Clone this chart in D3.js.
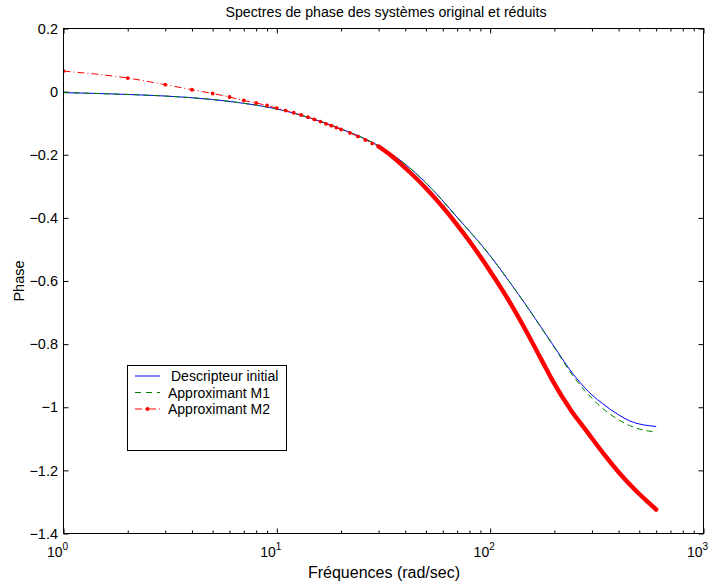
<!DOCTYPE html>
<html>
<head>
<meta charset="utf-8">
<script src="https://cdn.jsdelivr.net/npm/d3@7"></script>
<style>
  body { margin: 0; background: #fff; }
  svg { display: block; font-family: "Liberation Sans", Arial, Helvetica, sans-serif; }
</style>
</head>
<body>
<svg id="chart" width="720" height="587"></svg>
<script>
// Frequency grid (rad/sec) shared by the initial descriptor and model M1
const freqFull = [1, 2, 3, 5, 7, 10, 15, 20, 30, 40, 50, 70, 100, 123, 150, 200, 246, 280, 300, 337, 400, 450, 500, 550, 600];
// Phase of the initial descriptor system
const phaseInitial = [-0.003, -0.009, -0.014, -0.025, -0.037, -0.055, -0.088, -0.118, -0.172, -0.230, -0.289, -0.398, -0.520, -0.602, -0.684, -0.809, -0.897, -0.941, -0.961, -0.989, -1.024, -1.043, -1.053, -1.058, -1.061];
// Phase of reduced model M1
const phaseM1 = [-0.003, -0.009, -0.014, -0.025, -0.037, -0.055, -0.088, -0.118, -0.172, -0.230, -0.289, -0.398, -0.520, -0.602, -0.685, -0.811, -0.903, -0.950, -0.972, -1.004, -1.040, -1.058, -1.069, -1.075, -1.079];
// Frequency samples of reduced model M2 (one sample per rad/sec at low frequency)
const freqM2 = [1, 2, 3, 4, 5, 6, 7, 8, 9, 10, 11, 12, 13, 14, 15, 16, 17, 18, 19, 20, 22, 24, 26, 28, 30, 35, 40, 50, 60, 70, 80, 100, 120, 150, 175, 194, 240, 282, 340, 404, 480, 540, 600];
// Phase of reduced model M2
const phaseM2 = [0.065, 0.043, 0.022, 0.006, -0.006, -0.017, -0.028, -0.036, -0.044, -0.052, -0.060, -0.067, -0.074, -0.081, -0.088, -0.095, -0.102, -0.108, -0.114, -0.120, -0.131, -0.142, -0.153, -0.164, -0.174, -0.207, -0.242, -0.306, -0.366, -0.422, -0.474, -0.569, -0.653, -0.768, -0.853, -0.910, -1.011, -1.074, -1.147, -1.209, -1.263, -1.296, -1.324];

const seriesNames = ["Descripteur initial", "Approximant M1", "Approximant M2"];
const yTickValues = [0.2, 0, -0.2, -0.4, -0.6, -0.8, -1, -1.2, -1.4];
const xDecades = [0, 1, 2, 3];

const svg = d3.select("#chart");
const plot = { left: 63.5, right: 703.5, top: 28.5, bottom: 533.5 };

const x = d3.scaleLog().domain([1, 1000]).range([plot.left, plot.right]);
const y = d3.scaleLinear().domain([-1.4, 0.2]).range([plot.bottom, plot.top]);

const majorX = xDecades.map(d => Math.pow(10, d));
const minorX = [];
for (let d = 0; d < 3; d++) for (let m = 2; m <= 9; m++) minorX.push(m * Math.pow(10, d));

// Clip region for the curves
svg.append("defs").append("clipPath").attr("id", "clip")
  .append("rect").attr("x", plot.left).attr("y", plot.top)
  .attr("width", plot.right - plot.left).attr("height", plot.bottom - plot.top);

// Inward ticks on all four sides
function tickGroup(axisGen, tx, ty) {
  const g = svg.append("g").attr("transform", `translate(${tx},${ty})`).call(axisGen);
  g.select(".domain").remove();
  g.selectAll("text").remove();
  g.selectAll("line").attr("stroke", "#000").attr("stroke-width", 1);
  return g;
}
tickGroup(d3.axisBottom(x).tickValues(majorX).tickSize(-5), 0, plot.bottom);
tickGroup(d3.axisBottom(x).tickValues(minorX).tickSize(-3), 0, plot.bottom);
tickGroup(d3.axisTop(x).tickValues(majorX).tickSize(-5), 0, plot.top);
tickGroup(d3.axisTop(x).tickValues(minorX).tickSize(-3), 0, plot.top);
tickGroup(d3.axisLeft(y).tickValues(yTickValues).tickSize(-5), plot.left, 0);
tickGroup(d3.axisRight(y).tickValues(yTickValues).tickSize(-5), plot.right, 0);

// Curves
const line = d3.line().x(d => x(d[0])).y(d => y(d[1])).curve(d3.curveMonotoneX);
const curves = svg.append("g").attr("clip-path", "url(#clip)");

const dataInit = freqFull.map((f, i) => [f, phaseInitial[i]]);
const dataM1 = freqFull.map((f, i) => [f, phaseM1[i]]);
const dataM2 = freqM2.map((f, i) => [f, phaseM2[i]]);

curves.append("path").datum(dataInit).attr("d", line)
  .attr("fill", "none").attr("stroke", "#0000ff").attr("stroke-width", 1);
curves.append("path").datum(dataM1).attr("d", line)
  .attr("fill", "none").attr("stroke", "#008000").attr("stroke-width", 1)
  .attr("stroke-dasharray", "6,4");

// M2: dash-dot line with point markers; above 30 rad/sec the markers merge into a solid band
curves.append("path").datum(dataM2).attr("d", line)
  .attr("fill", "none").attr("stroke", "#ff0000").attr("stroke-width", 1)
  .attr("stroke-dasharray", "7,3,1,3");
curves.append("path").datum(dataM2.filter(d => d[0] >= 30)).attr("d", line)
  .attr("fill", "none").attr("stroke", "#ff0000").attr("stroke-width", 4.4)
  .attr("stroke-linecap", "round");
curves.selectAll("circle.m2").data(dataM2).enter().append("circle")
  .attr("class", "m2").attr("cx", d => x(d[0])).attr("cy", d => y(d[1]))
  .attr("r", 1.9).attr("fill", "#ff0000");

// Axes box
svg.append("rect").attr("x", plot.left).attr("y", plot.top)
  .attr("width", plot.right - plot.left).attr("height", plot.bottom - plot.top)
  .attr("fill", "none").attr("stroke", "#000").attr("stroke-width", 1);

// Y tick labels
svg.append("g").selectAll("text").data(yTickValues).enter().append("text")
  .attr("x", 58).attr("y", d => y(d)).attr("dy", "0.36em")
  .attr("text-anchor", "end").attr("font-size", 14.5)
  .text(d => d3.format("")(d).replace("-", "\u2212"));

// X tick labels as powers of ten
const xl = svg.append("g").selectAll("text").data(xDecades).enter().append("text")
  .attr("x", d => x(Math.pow(10, d)) - 6).attr("y", 557)
  .attr("text-anchor", "middle").attr("font-size", 14);
xl.append("tspan").text("10");
xl.append("tspan").attr("font-size", 10).attr("dy", -7).text(d => d);

// Axis titles
svg.append("text").attr("x", 384).attr("y", 578).attr("text-anchor", "middle")
  .attr("font-size", 16).text("Fréquences (rad/sec)");
svg.append("text").attr("transform", "translate(24,281) rotate(-90)")
  .attr("text-anchor", "middle").attr("font-size", 14.5).text("Phase");
svg.append("text").attr("x", 386).attr("y", 17).attr("text-anchor", "middle")
  .attr("font-size", 14.2).text("Spectres de phase des systèmes original et réduits");

// Legend
const lg = svg.append("g");
lg.append("rect").attr("x", 127.5).attr("y", 365.5).attr("width", 159).attr("height", 85)
  .attr("fill", "#fff").attr("stroke", "#000").attr("stroke-width", 1);
const legendRows = [
  { name: seriesNames[0], y: 376, color: "#0000ff", dash: null, tx: 171 },
  { name: seriesNames[1], y: 392.5, color: "#008000", dash: "6,5", tx: 168 },
  { name: seriesNames[2], y: 409, color: "#ff0000", dash: "7,3,1,3", tx: 168 }
];
legendRows.forEach((r, i) => {
  lg.append("line").attr("x1", 135).attr("x2", 160).attr("y1", r.y).attr("y2", r.y)
    .attr("stroke", r.color).attr("stroke-width", 1)
    .attr("stroke-dasharray", r.dash);
  if (i === 2) lg.append("circle").attr("cx", 147.5).attr("cy", r.y).attr("r", 1.9).attr("fill", "#ff0000");
  lg.append("text").attr("x", r.tx).attr("y", r.y).attr("dy", "0.36em")
    .attr("font-size", 14).text(r.name);
});
</script>
</body>
</html>
